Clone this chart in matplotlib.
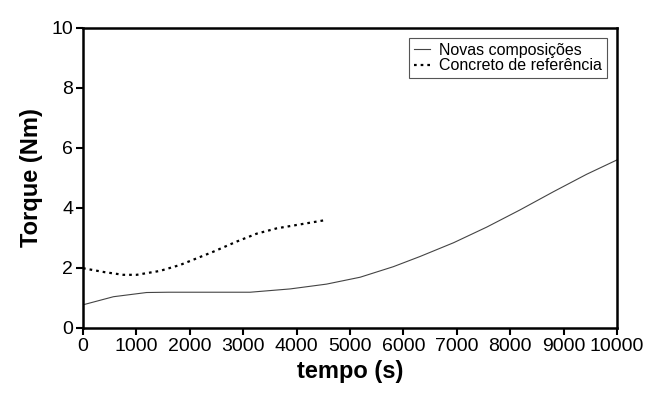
import matplotlib
matplotlib.use("Agg")
import matplotlib.pyplot as plt

plt.rcParams['font.family'] = ['Liberation Sans', 'DejaVu Sans']

# Novas composições (solid)
t_novas = [0, 570, 1190, 1600, 2500, 3130, 3880, 4560, 5190, 5810, 6310,
           6940, 7560, 8180, 8810, 9430, 10000]
torque_novas = [0.77, 1.04, 1.18, 1.19, 1.19, 1.19, 1.30, 1.46, 1.69, 2.04, 2.38,
                2.84, 3.36, 3.93, 4.54, 5.12, 5.60]

# Concreto de referência (dotted)
t_ref = [0, 400, 755, 1005, 1440, 1820, 2440, 2880, 3250, 3630, 4130, 4560]
torque_ref = [1.99, 1.86, 1.77, 1.77, 1.90, 2.10, 2.54, 2.88, 3.14, 3.32, 3.47, 3.60]

fig = plt.figure(figsize=(6.46, 3.97), dpi=100)
ax = fig.add_axes([0.1285, 0.174, 0.8266, 0.7557])

ax.plot(t_novas, torque_novas, color='#444444', linewidth=0.8, label='Novas composições')
ax.plot(t_ref, torque_ref, color='black', linewidth=1.6, linestyle=(0, (1.2, 1.8)),
        label='Concreto de referência')

ax.set_xlim(0, 10000)
ax.set_ylim(0, 10)
ax.set_xticks(range(0, 10001, 1000))
ax.set_yticks(range(0, 11, 2))
ax.tick_params(direction='out', length=5, width=1.5, labelsize=14, pad=2, colors='black')
for s in ax.spines.values():
    s.set_linewidth(1.8)

ax.set_xlabel('tempo (s)', fontsize=17, fontweight='bold', labelpad=4)
ax.set_ylabel('Torque (Nm)', fontsize=17, fontweight='bold', labelpad=6)

leg = ax.legend(loc='upper right', bbox_to_anchor=(0.981, 0.967), fontsize=11.5,
                fancybox=False, framealpha=1, edgecolor='#555555',
                handlelength=1.0, handletextpad=0.6, borderpad=0.3, labelspacing=0.05,
                borderaxespad=0.0)
leg.get_frame().set_linewidth(0.8)

fig.savefig('out.png', dpi=100)
